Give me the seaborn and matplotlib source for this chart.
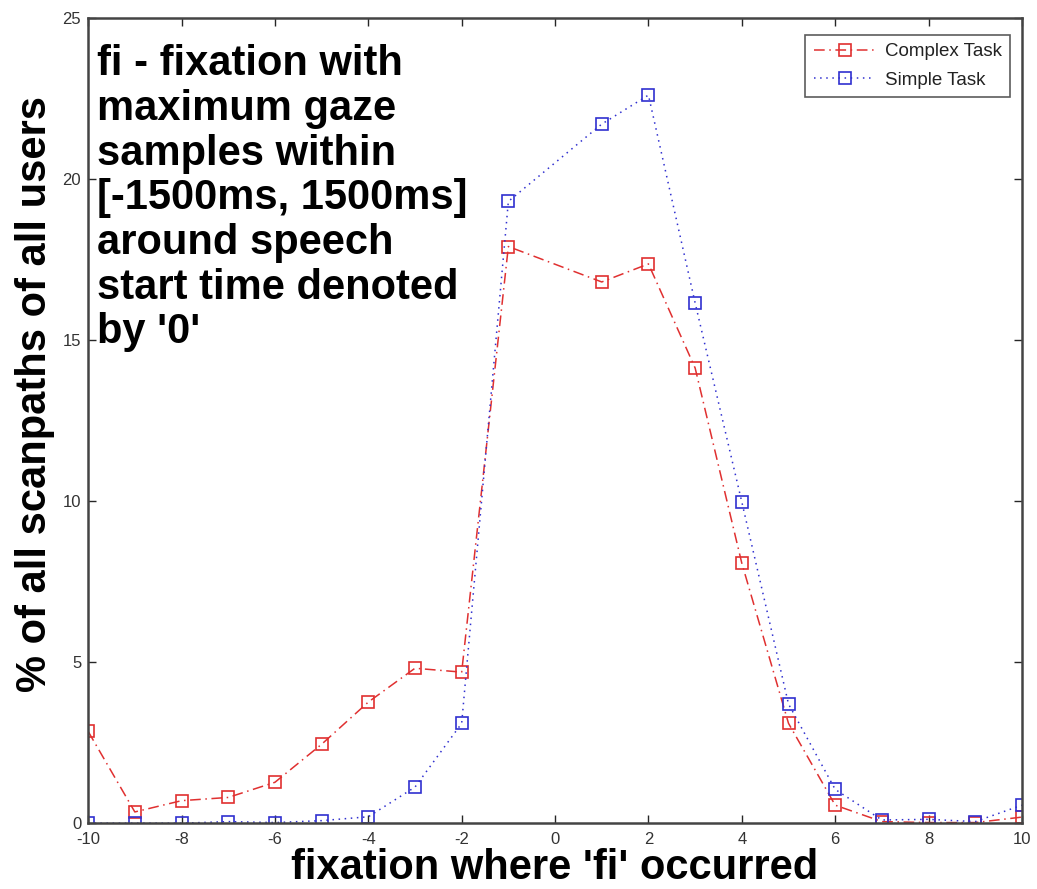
import matplotlib
matplotlib.use("Agg")
import matplotlib.pyplot as plt
import seaborn as sns
import pandas as pd

# Fixation offset relative to speech start (no fixation index 0)
fixation = [-10, -9, -8, -7, -6, -5, -4, -3, -2, -1, 1, 2, 3, 4, 5, 6, 7, 8, 9, 10]
complex_task = [2.85, 0.35, 0.7, 0.8, 1.27, 2.45, 3.76, 4.81, 4.69, 17.9,
                16.8, 17.36, 14.13, 8.07, 3.1, 0.56, 0.05, 0.02, 0.02, 0.19]
simple_task = [0.0, 0.0, 0.0, 0.05, 0.02, 0.08, 0.2, 1.12, 3.1, 19.3,
               21.7, 22.6, 16.15, 9.97, 3.7, 1.05, 0.1, 0.12, 0.05, 0.56]
x_ticks = [-10, -8, -6, -4, -2, 0, 2, 4, 6, 8, 10]
y_ticks = [0, 5, 10, 15, 20, 25]

sns.set_style("ticks")
plt.rcParams['font.family'] = ['Liberation Sans', 'DejaVu Sans']
plt.rcParams['axes.unicode_minus'] = False
plt.rcParams['text.color'] = 'black'
plt.rcParams['axes.labelcolor'] = 'black'

df = pd.DataFrame({"fixation": fixation, "Complex Task": complex_task,
                   "Simple Task": simple_task})

fig = plt.figure(figsize=(10.37, 8.89), dpi=100)
ax = fig.add_axes([0.085, 0.074, 0.9005, 0.906])

sns.lineplot(data=df, x="fixation", y="Complex Task", ax=ax, color="#e03030",
             linestyle=(0, (7, 3, 1, 3)), linewidth=1.1, marker="s",
             markersize=9, markerfacecolor="none", markeredgecolor="#e03030",
             markeredgewidth=1.2, label="Complex Task")
sns.lineplot(data=df, x="fixation", y="Simple Task", ax=ax, color="#3030d0",
             linestyle=(0, (1, 3)), linewidth=1.1, marker="s",
             markersize=9, markerfacecolor="none", markeredgecolor="#3030d0",
             markeredgewidth=1.2, label="Simple Task")

ax.set_xlim(-10, 10)
ax.set_ylim(0, 25)
ax.set_xticks(x_ticks)
ax.set_yticks(y_ticks)
ax.tick_params(direction="in", length=6, width=1, labelsize=12,
               labelcolor="#333333", top=True, right=True)
ax.tick_params(axis="x", pad=6)
ax.tick_params(axis="y", pad=5)
for s in ax.spines.values():
    s.set_linewidth(1.8)
    s.set_color("#444444")

ax.set_xlabel("fixation where 'fi' occurred", fontsize=30, fontweight="bold",
              labelpad=1)
ax.set_ylabel("% of all scanpaths of all users", fontsize=30, fontweight="bold")
ax.yaxis.set_label_coords(-0.036, 0.533)

ax.text(0.01, 0.967,
        "fi - fixation with\nmaximum gaze\nsamples within\n[-1500ms, 1500ms]\n"
        "around speech\nstart time denoted\nby '0'",
        transform=ax.transAxes, ha="left", va="top", fontsize=30,
        fontweight="bold", linespacing=1.15, color="black")

leg = ax.legend(loc="upper right", fontsize=13.5, frameon=True, fancybox=False,
                handlelength=3.3, handletextpad=0.5, borderpad=0.45,
                labelspacing=0.6, bbox_to_anchor=(0.9975, 0.9905))
leg.get_frame().set_edgecolor("#333333")
leg.get_frame().set_linewidth(1.2)
for t in leg.get_texts():
    t.set_color("#222222")

fig.savefig("out.png", dpi=100)
